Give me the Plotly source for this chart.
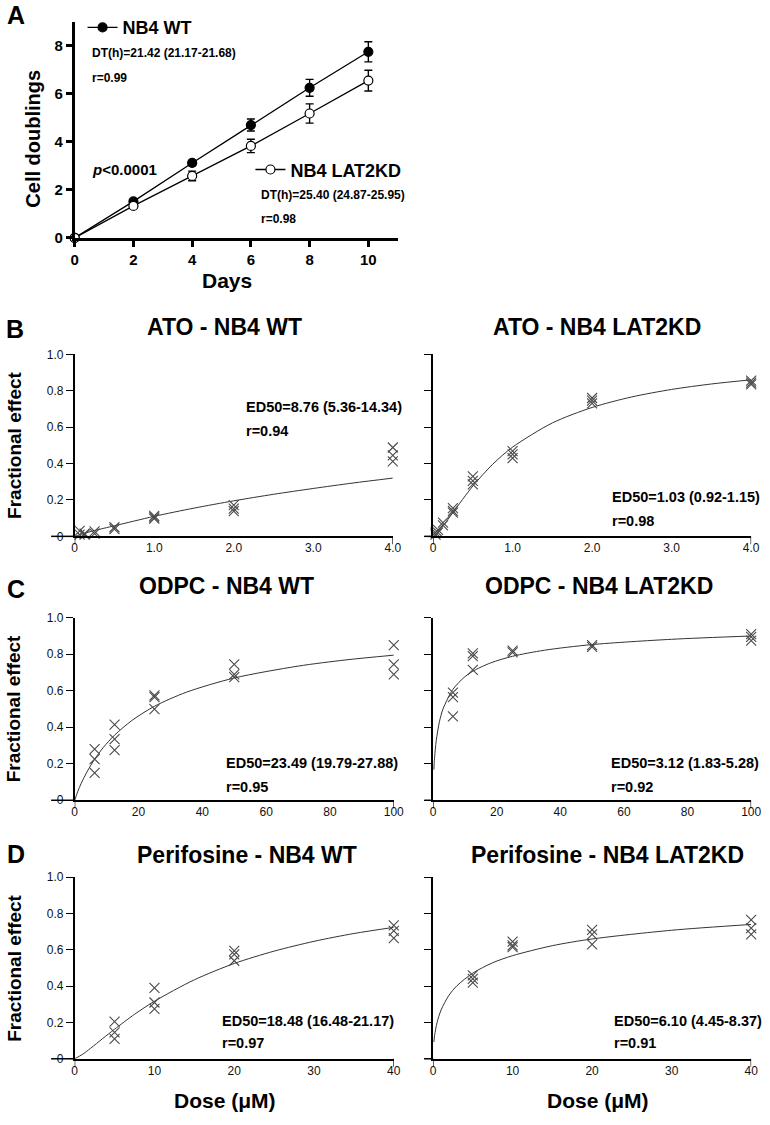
import plotly.graph_objects as go

W, H = 770, 1125
FONT = "Liberation Sans, Arial, Helvetica, sans-serif"

# ---------------- Panel A data ----------------
days = [0, 2, 4, 6, 8, 10]
wt_doublings = [0, 1.52, 3.12, 4.70, 6.25, 7.75]
wt_err = [0, 0.06, 0.11, 0.25, 0.35, 0.42]
kd_doublings = [0, 1.33, 2.58, 3.83, 5.18, 6.55]
kd_err = [0, 0.05, 0.20, 0.28, 0.40, 0.43]
a_xticks = [0, 2, 4, 6, 8, 10]
a_yticks = [0, 2, 4, 6, 8]

# ---------------- Panel B (ATO) ----------------
ato_wt_dose = [0.0625, 0.0625, 0.125, 0.125, 0.25, 0.25, 0.5, 0.5, 1, 1, 1, 2, 2, 2, 4, 4, 4]
ato_wt_fa = [0.030, 0.010, 0.015, 0.010, 0.027, 0.015, 0.050, 0.040, 0.112, 0.104, 0.097,
             0.172, 0.152, 0.138, 0.488, 0.445, 0.412]
ato_wt_fit_x = [0.02, 0.05, 0.1, 0.25, 0.5, 1, 1.5, 2, 2.5, 3, 3.5, 4]
ato_wt_fit_y = [0.004, 0.007, 0.014, 0.032, 0.058, 0.110, 0.155, 0.195, 0.231, 0.263, 0.293, 0.320]

ato_kd_dose = [0.03125, 0.03125, 0.0625, 0.0625, 0.125, 0.125, 0.25, 0.25, 0.25, 0.5, 0.5, 0.5,
               1, 1, 1, 2, 2, 2, 4, 4, 4]
ato_kd_fa = [0.020, 0.010, 0.035, 0.020, 0.075, 0.060, 0.155, 0.140, 0.130, 0.330, 0.305, 0.285,
             0.468, 0.450, 0.430, 0.760, 0.745, 0.730, 0.855, 0.845, 0.835]
ato_kd_fit_x = [0.02, 0.0625, 0.125, 0.25, 0.5, 0.75, 1, 1.5, 2, 2.5, 3, 3.5, 4]
ato_kd_fit_y = [0.005, 0.023, 0.056, 0.131, 0.276, 0.396, 0.490, 0.623, 0.708, 0.766, 0.807, 0.837, 0.860]
ato_xticks = [0, 1, 2, 3, 4]
ato_xtext = ["0", "1.0", "2.0", "3.0", "4.0"]

# ---------------- Panel C (ODPC) ----------------
odpc_wt_dose = [6.25, 6.25, 6.25, 12.5, 12.5, 12.5, 25, 25, 25, 50, 50, 50, 100, 100, 100]
odpc_wt_fa = [0.280, 0.225, 0.150, 0.415, 0.335, 0.275, 0.575, 0.565, 0.500,
              0.745, 0.690, 0.675, 0.850, 0.745, 0.690]
odpc_wt_fit_x = [0, 1, 2, 4, 6.25, 9, 12.5, 18, 25, 35, 50, 70, 85, 100]
odpc_wt_fit_y = [0, 0.050, 0.091, 0.160, 0.225, 0.290, 0.357, 0.438, 0.515, 0.592, 0.670, 0.735, 0.769, 0.795]

odpc_kd_dose = [6.25, 6.25, 6.25, 12.5, 12.5, 12.5, 25, 25, 50, 50, 100, 100, 100]
odpc_kd_fa = [0.590, 0.565, 0.460, 0.805, 0.790, 0.715, 0.820, 0.810, 0.850, 0.840, 0.910, 0.895, 0.875]
odpc_kd_fit_x = [0.25, 0.35, 0.5, 1, 2, 3.12, 6.25, 10, 12.5, 18, 25, 35, 50, 75, 100]
odpc_kd_fit_y = [0.168, 0.200, 0.238, 0.327, 0.430, 0.500, 0.608, 0.677, 0.707, 0.752, 0.789, 0.822,
                 0.853, 0.882, 0.900]
odpc_xticks = [0, 20, 40, 60, 80, 100]

# ---------------- Panel D (Perifosine) ----------------
peri_wt_dose = [5, 5, 5, 10, 10, 10, 20, 20, 20, 40, 40, 40]
peri_wt_fa = [0.205, 0.145, 0.110, 0.390, 0.310, 0.275, 0.595, 0.575, 0.540, 0.735, 0.705, 0.665]
peri_wt_fit_x = [0, 1, 2, 3.5, 5, 7.5, 10, 15, 20, 25, 30, 35, 40]
peri_wt_fit_y = [0, 0.025, 0.058, 0.111, 0.163, 0.245, 0.317, 0.435, 0.525, 0.593, 0.647, 0.690, 0.724]

peri_kd_dose = [5, 5, 5, 10, 10, 10, 20, 20, 20, 40, 40, 40]
peri_kd_fa = [0.460, 0.440, 0.420, 0.645, 0.625, 0.615, 0.710, 0.685, 0.630, 0.765, 0.720, 0.685]
peri_kd_fit_x = [0.1, 0.2, 0.5, 1, 2, 3, 5, 7.5, 10, 15, 20, 30, 40]
peri_kd_fit_y = [0.092, 0.130, 0.199, 0.268, 0.350, 0.402, 0.472, 0.529, 0.568, 0.623, 0.660, 0.708, 0.740]
peri_xticks = [0, 10, 20, 30, 40]

fa_ticks = [0, 0.2, 0.4, 0.6, 0.8, 1.0]
fa_text = ["0", "0.2", "0.4", "0.6", "0.8", "1.0"]


def fx(px):
    return px / W


def fy(py):
    return 1 - py / H


fig = go.Figure()

# ---------------- Panel A traces ----------------
fig.add_trace(go.Scatter(
    x=days, y=wt_doublings, mode="lines+markers", name="NB4 WT",
    line=dict(color="black", width=1.3),
    marker=dict(symbol="circle", size=9, color="black", line=dict(color="black", width=1.2)),
    error_y=dict(type="data", array=wt_err, visible=True, color="black", thickness=1.4, width=4),
    xaxis="x", yaxis="y", legend="legend", cliponaxis=False))
fig.add_trace(go.Scatter(
    x=days, y=kd_doublings, mode="lines+markers", name="NB4 LAT2KD",
    line=dict(color="black", width=1.3),
    marker=dict(symbol="circle", size=9, color="white", line=dict(color="black", width=1.2)),
    error_y=dict(type="data", array=kd_err, visible=True, color="black", thickness=1.4, width=4),
    xaxis="x", yaxis="y", legend="legend2", cliponaxis=False))

# ---------------- Dose-response panels ----------------
panels = [
    (2, ato_wt_dose, ato_wt_fa, ato_wt_fit_x, ato_wt_fit_y, 4, ato_xticks, ato_xtext, (72, 396), (352, 536.5), True),
    (3, ato_kd_dose, ato_kd_fa, ato_kd_fit_x, ato_kd_fit_y, 4, ato_xticks, ato_xtext, (437, 761), (352, 536.5), False),
    (4, odpc_wt_dose, odpc_wt_fa, odpc_wt_fit_x, odpc_wt_fit_y, 100, odpc_xticks,
     [str(v) for v in odpc_xticks], (72, 397), (619, 804), True),
    (5, odpc_kd_dose, odpc_kd_fa, odpc_kd_fit_x, odpc_kd_fit_y, 100, odpc_xticks,
     [str(v) for v in odpc_xticks], (437, 761), (619, 804), False),
    (6, peri_wt_dose, peri_wt_fa, peri_wt_fit_x, peri_wt_fit_y, 40, peri_xticks,
     [str(v) for v in peri_xticks], (72, 397), (882, 1066), True),
    (7, peri_kd_dose, peri_kd_fa, peri_kd_fit_x, peri_kd_fit_y, 40, peri_xticks,
     [str(v) for v in peri_xticks], (437, 761), (882, 1066), False),
]

layout = dict(
    width=W, height=H, margin=dict(l=0, r=0, t=0, b=0),
    paper_bgcolor="white", plot_bgcolor="white",
    font=dict(family=FONT, color="black"),
    showlegend=True,
    xaxis=dict(domain=[fx(72), fx(401)], range=[0, 11], tickvals=a_xticks,
               showline=True, linecolor="black", linewidth=2.5, ticks="outside", ticklen=6,
               tickwidth=2.5, tickcolor="black", showgrid=False, zeroline=False,
               tickfont=dict(size=15, family=FONT, weight="bold"), anchor="y"),
    yaxis=dict(domain=[fy(234), fy(15)], range=[0, 9], tickvals=a_yticks,
               showline=True, linecolor="black", linewidth=2.5, ticks="outside", ticklen=6,
               tickwidth=2.5, tickcolor="black", showgrid=False, zeroline=False,
               tickfont=dict(size=15, family=FONT, weight="bold"), anchor="x"),
    legend=dict(x=fx(80), y=fy(21), xanchor="left", yanchor="middle",
                font=dict(size=18, family=FONT, weight="bold"), bgcolor="rgba(0,0,0,0)",
                itemwidth=30, borderwidth=0),
    legend2=dict(x=fx(251), y=fy(165), xanchor="left", yanchor="middle",
                 font=dict(size=18, family=FONT, weight="bold"), bgcolor="rgba(0,0,0,0)",
                 itemwidth=30, borderwidth=0),
)

shapes = []
for idx, dose, fa, fitx, fity, xmax, tv, tt, xd, yd, is_left in panels:
    xa = "x%d" % idx
    ya = "y%d" % idx
    fig.add_trace(go.Scatter(x=fitx, y=fity, mode="lines",
                             line=dict(color="#333333", width=1, shape="spline", smoothing=0.8),
                             xaxis=xa, yaxis=ya, showlegend=False, hoverinfo="skip"))
    fig.add_trace(go.Scatter(x=dose, y=fa, mode="markers",
                             marker=dict(symbol="x-thin", size=10, color="#4a4a4a",
                                         line=dict(color="#4a4a4a", width=1.1)),
                             xaxis=xa, yaxis=ya, showlegend=False, cliponaxis=False))
    layout["xaxis%d" % idx] = dict(
        domain=[fx(xd[0]), fx(xd[1])], range=[0, xmax], tickvals=tv, ticktext=tt,
        showline=True, linecolor="black", linewidth=1.5, ticks="", showgrid=False, zeroline=False,
        tickfont=dict(size=12, family=FONT, color="#111111"), anchor=ya)
    layout["yaxis%d" % idx] = dict(
        domain=[fy(yd[1]), fy(yd[0])], range=[0, 1], tickvals=fa_ticks, ticktext=fa_text,
        showline=True, linecolor="black", linewidth=1.5, ticks="outside", ticklen=7, tickwidth=1.2,
        tickcolor="black", showgrid=False, zeroline=False, showticklabels=is_left,
        tickfont=dict(size=12, family=FONT, color="#111111"), anchor=xa)
    ext = 24 if is_left else 9
    shapes.append(dict(type="line", xref="paper", yref="paper", x0=fx(xd[0] - ext), x1=fx(xd[0]),
                       y0=fy(yd[1]), y1=fy(yd[1]), line=dict(color="black", width=1.5)))
    for xv in (0, xmax):
        shapes.append(dict(type="line", xref=xa, yref="paper", x0=xv, x1=xv,
                           y0=fy(yd[1]), y1=fy(yd[1] + 8), line=dict(color="black", width=1.2)))

layout["shapes"] = shapes

ann = []


def add_text(text, x, y, size, xanchor="center", bold=True, angle=0, yanchor="middle"):
    t = "<b>%s</b>" % text if bold else text
    yy = y - (0.12 * size if angle == 0 else 0)
    ann.append(dict(text=t, x=fx(x), y=fy(yy), xref="paper", yref="paper", showarrow=False,
                    xanchor=xanchor, yanchor=yanchor, textangle=angle,
                    font=dict(size=size, family=FONT, color="black")))


add_text("A", 12, 11, 25)
add_text("B", 11, 329, 25)
add_text("C", 12, 593, 25)
add_text("D", 12, 861, 25)

add_text("Cell doublings", 30, 133, 20, angle=-90)
add_text("Days", 227, 280, 21)
add_text("DT(h)=21.42 (21.17-21.68)", 88, 48, 12, xanchor="left")
add_text("r=0.99", 88, 73, 12, xanchor="left")
add_text("<i>p</i>&lt;0.0001", 88, 166, 15, xanchor="left")
add_text("DT(h)=25.40 (24.87-25.95)", 260, 192, 12, xanchor="left")
add_text("r=0.98", 260, 216, 12, xanchor="left")

add_text("ATO - NB4 WT", 225, 327, 23)
add_text("ATO - NB4 LAT2KD", 604, 327, 23)
add_text("ODPC - NB4 WT", 227, 590, 23)
add_text("ODPC - NB4 LAT2KD", 606, 590, 23)
add_text("Perifosine - NB4 WT", 247, 862, 23)
add_text("Perifosine - NB4 LAT2KD", 615, 862, 23)

add_text("Fractional effect", 10, 444, 19, angle=-90)
add_text("Fractional effect", 10, 711, 19, angle=-90)
add_text("Fractional effect", 10, 974, 19, angle=-90)

add_text("Dose (μM)", 225, 1111, 21)
add_text("Dose (μM)", 605, 1111, 21)

ed = [
    ("ED50=8.76 (5.36-14.34)", "r=0.94", 244, 407, 431),
    ("ED50=1.03 (0.92-1.15)", "r=0.98", 617, 498, 523),
    ("ED50=23.49 (19.79-27.88)", "r=0.95", 224, 768, 792),
    ("ED50=3.12 (1.83-5.28)", "r=0.92", 616, 768, 792),
    ("ED50=18.48 (16.48-21.17)", "r=0.97", 220, 1029, 1052),
    ("ED50=6.10 (4.45-8.37)", "r=0.91", 619, 1029, 1052),
]
for t1, t2, x0, y1, y2 in ed:
    add_text(t1, x0, y1, 14.5, xanchor="left")
    add_text(t2, x0, y2, 14.5, xanchor="left")

layout["annotations"] = ann
fig.update_layout(**layout)
fig.write_html("out.html", config={"displayModeBar": False},
               post_script="document.body.style.margin='0';")
